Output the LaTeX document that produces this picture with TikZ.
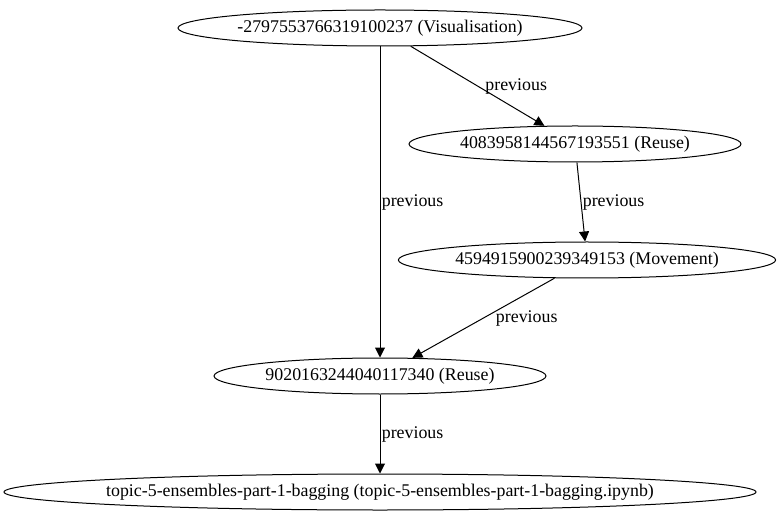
\documentclass[tikz,border=0pt]{standalone}
\usepackage{fontspec}
\setmainfont{Liberation Serif}
\usetikzlibrary{shapes.geometric,arrows.meta}

\tikzset{
  cell/.style={draw, ellipse, line width=0.75pt, inner sep=0pt, minimum height=27pt, font=\fontsize{13.4}{15}\selectfont},
  prev/.style={-{Triangle[length=7.5pt,width=7.5pt]}, line width=0.75pt},
  prevlabel/.style={inner sep=1pt, font=\fontsize{13.4}{15}\selectfont}
}

\begin{document}
\begin{tikzpicture}[x=0.75pt,y=0.75pt,yscale=-1,xscale=1]
\useasboundingbox (0,0) rectangle (780,523);
%Ellipses
\node [cell, minimum width=303pt] (vis) at (380,28) {-2797553766319100237 (Visualisation)};
\node [cell, minimum width=249pt] (reuseA) at (575,144) {4083958144567193551 (Reuse)};
\node [cell, minimum width=283pt] (move) at (587,260) {4594915900239349153 (Movement)};
\node [cell, minimum width=249pt] (reuseB) at (380,376) {9020163244040117340 (Reuse)};
\node [cell, inner xsep=-7pt, minimum width=564pt] (nb) at (380,492) {topic-5-ensembles-part-1-bagging (topic-5-ensembles-part-1-bagging.ipynb)};
%Edges
\draw [prev] (vis) -- node [prevlabel, right] (l1) {previous} (reuseB);
\draw [prev] (vis) -- node [prevlabel, right, xshift=4.5pt] (l2) {previous} (reuseA);
\draw [prev] (reuseA) -- node [prevlabel, right] (l3) {previous} (move);
\draw [prev] (move) -- node [prevlabel, right, xshift=8pt] (l4) {previous} (reuseB);
\draw [prev] (reuseB) -- node [prevlabel, right] (l5) {previous} (nb);
\end{tikzpicture}
\end{document}
